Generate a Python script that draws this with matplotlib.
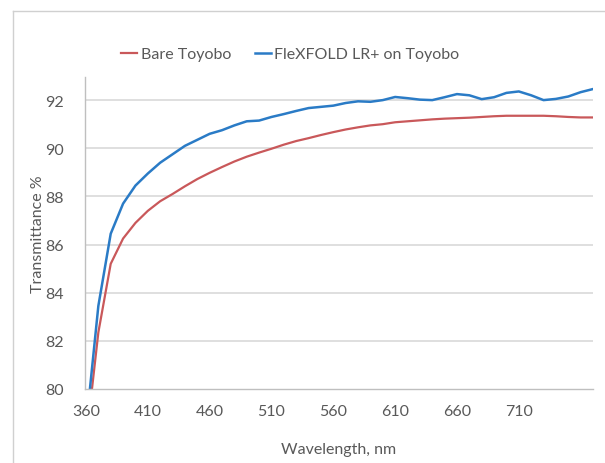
"""Transmittance vs wavelength chart"""
import numpy as np
import matplotlib
matplotlib.use('Agg')
import matplotlib.pyplot as plt
from matplotlib.lines import Line2D

plt.rcParams['font.family'] = ['Lato', 'DejaVu Sans']

# data
wavelength = list(range(360, 780, 10))
bare_toyobo = [
    77.8, 82.35, 85.2, 86.25, 86.9, 87.4, 87.8, 88.1, 88.42, 88.72,
    88.98, 89.22, 89.45, 89.65, 89.82, 89.98, 90.15, 90.3, 90.42, 90.55,
    90.67, 90.78, 90.87, 90.95, 91.0, 91.08, 91.12, 91.16, 91.2, 91.23,
    91.25, 91.27, 91.3, 91.33, 91.35, 91.35, 91.35, 91.35, 91.33, 91.3,
    91.28, 91.28,
]
flexfold = [
    78.4, 83.45, 86.45, 87.7, 88.45, 88.95, 89.4, 89.75, 90.1, 90.35,
    90.6, 90.75, 90.95, 91.12, 91.15, 91.3, 91.42, 91.55, 91.67, 91.72,
    91.77, 91.88, 91.95, 91.93, 92.0, 92.13, 92.08, 92.02, 92.0, 92.12,
    92.25, 92.2, 92.04, 92.12, 92.3, 92.36, 92.2, 92.0, 92.05, 92.15,
    92.33, 92.46,
]
x_ticks = [360, 410, 460, 510, 560, 610, 660, 710]
y_ticks = [80, 82, 84, 86, 88, 90, 92]

red = '#C9585A'
blue = '#2A7BC6'
text_color = '#595959'

fig = plt.figure(figsize=(6.05, 4.64), dpi=100)
ax = fig.add_axes([84.5 / 605, 74 / 464, 508.5 / 605, 312 / 464])

# chart area border (only left/top are visible in the crop)
fig.add_artist(Line2D([13 / 605, 13 / 605], [0, 1 - 12 / 464],
                      color='#D0D0D0', linewidth=1, transform=fig.transFigure))
fig.add_artist(Line2D([13 / 605, 1], [1 - 12 / 464, 1 - 12 / 464],
                      color='#D0D0D0', linewidth=1, transform=fig.transFigure))

for y in y_ticks[1:]:
    ax.axhline(y, color='#DCDCDC', linewidth=1.3, zorder=0)

ax.plot(wavelength, bare_toyobo, color=red, linewidth=1.6, label='Bare Toyobo')
ax.plot(wavelength, flexfold, color=blue, linewidth=1.8, label='FleXFOLD LR+ on Toyobo')

ax.set_xlim(358.8, 770)
ax.set_ylim(80, 92.96)
ax.set_xticks(x_ticks)
ax.set_yticks(y_ticks)
ax.tick_params(length=0, labelsize=11.5, colors=text_color, pad=11)
ax.tick_params(axis='y', pad=15)

for side in ['top', 'right']:
    ax.spines[side].set_visible(False)
for side in ['left', 'bottom']:
    ax.spines[side].set_color('#BFBFBF')
    ax.spines[side].set_linewidth(1)

ax.set_xlabel('Wavelength, nm', fontsize=11.5, color=text_color, va='center')
ax.set_ylabel('Transmittance %', fontsize=11.5, color=text_color, va='center')
ax.xaxis.set_label_coords(0.5, -0.192)
ax.yaxis.set_label_coords(-0.0914, 0.5)

ax.legend(loc='lower left', bbox_to_anchor=(0.06, 1.03), ncol=2, frameon=False,
          fontsize=11.5, labelcolor=text_color, handlelength=1.0,
          handletextpad=0.2, columnspacing=1.5, borderaxespad=0)

fig.savefig('out.png', dpi=100)
